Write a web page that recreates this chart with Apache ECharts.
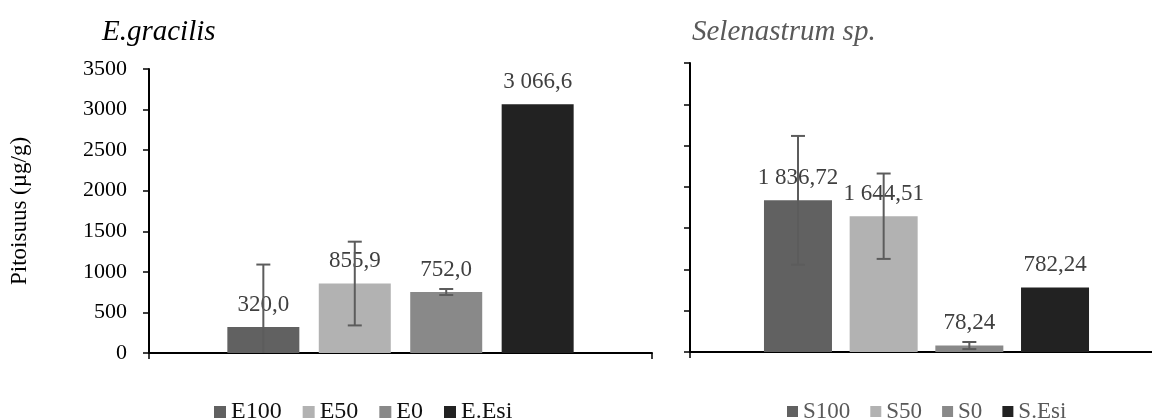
<!DOCTYPE html>
<html>
<head>
<meta charset="utf-8">
<script src="https://cdn.jsdelivr.net/npm/echarts@6/dist/echarts.min.js"></script>
<style>
  html, body { margin: 0; padding: 0; background: #fff; }
  #main { width: 1152px; height: 419px; }
</style>
</head>
<body>
<div id="main"></div>
<script>
var eNames = ['E100', 'E50', 'E0', 'E.Esi'];
var eValues = [320.0, 855.9, 752.0, 3066.6];
var eErrors = [770, 516, 37, 0];

var sNames = ['S100', 'S50', 'S0', 'S.Esi'];
var sValues = [1836.72, 1644.51, 78.24, 782.24];
var sErrors = [780, 517, 43, 0];

var yTicks = { min: 0, max: 3500, interval: 500 };
var barColors = ['#616161', '#b2b2b2', '#898989', '#222222'];

var FONT = '"Liberation Serif", "Times New Roman", serif';

// 1 234,5 style (space for thousands, comma for decimals)
function fiNum(v, d) {
    var s = v.toFixed(d).split('.');
    var int = s[0].replace(/\B(?=(\d{3})+(?!\d))/g, ' ');
    return d ? int + ',' + s[1] : int;
}

var myChart = echarts.init(document.getElementById('main'));

var panels = [
    { names: eNames, values: eValues, errors: eErrors, dec: 1, barWidth: 72, gap: 0.27, grid: 0 },
    { names: sNames, values: sValues, errors: sErrors, dec: 2, barWidth: 68, gap: 0.26, grid: 1 }
];

var series = [];
panels.forEach(function (p) {
    p.names.forEach(function (n, i) {
        series.push({
            name: n,
            type: 'bar',
            xAxisIndex: p.grid,
            yAxisIndex: p.grid,
            barWidth: p.barWidth,
            barGap: (p.gap * 100) + '%',
            itemStyle: { color: barColors[i] },
            label: {
                show: true,
                position: 'top',
                distance: 11,
                color: '#404040',
                fontFamily: FONT,
                fontSize: 23,
                formatter: function (prm) { return fiNum(prm.value, p.dec); }
            },
            data: [p.values[i]],
            z: 2
        });
    });
    // error bars
    var pitch = p.barWidth * (1 + p.gap);
    var errData = p.values.map(function (v, i) {
        return [0, Math.max(0, v - p.errors[i]), v + p.errors[i], i, v - p.errors[i] < 0 ? 1 : 0];
    }).filter(function (d, i) { return p.errors[i] > 0; });
    series.push({
        type: 'custom',
        xAxisIndex: p.grid,
        yAxisIndex: p.grid,
        z: 5,
        silent: true,
        clip: false,
        encode: { x: 0, y: [1, 2] },
        data: errData,
        renderItem: function (params, api) {
            var k = api.value(3);
            var lo = api.coord([0, api.value(1)]);
            var hi = api.coord([0, api.value(2)]);
            var x = lo[0] + (k - 1.5) * pitch;
            var cap = 7;
            var st = { stroke: '#5c5c5c', lineWidth: 2 };
            var kids = [
                { type: 'line', shape: { x1: x, y1: lo[1], x2: x, y2: hi[1] }, style: st },
                { type: 'line', shape: { x1: x - cap, y1: hi[1], x2: x + cap, y2: hi[1] }, style: st }
            ];
            if (!api.value(4)) {
                kids.push({ type: 'line', shape: { x1: x - cap, y1: lo[1], x2: x + cap, y2: lo[1] }, style: st });
            }
            return { type: 'group', children: kids };
        }
    });
});

var option = {
    animation: false,
    textStyle: { fontFamily: FONT },
    title: [
        {
            text: 'E.gracilis', left: 102, top: 18, padding: 0,
            textStyle: { fontFamily: FONT, fontStyle: 'italic', fontWeight: 'normal', fontSize: 29, color: '#000' }
        },
        {
            text: 'Selenastrum sp.', left: 692, top: 18, padding: 0,
            textStyle: { fontFamily: FONT, fontStyle: 'italic', fontWeight: 'normal', fontSize: 29, color: '#595959' }
        }
    ],
    legend: [
        {
            data: eNames, left: 214, top: 400, padding: 0,
            itemWidth: 12, itemHeight: 12, itemGap: 21,
            icon: 'rect',
            textStyle: { fontFamily: FONT, fontSize: 24, color: '#111' }
        },
        {
            data: sNames, left: 787, top: 400, padding: 0,
            itemWidth: 11, itemHeight: 11, itemGap: 20,
            icon: 'rect',
            textStyle: { fontFamily: FONT, fontSize: 23, color: '#595959' }
        }
    ],
    grid: [
        { left: 149, width: 503, top: 69, bottom: 66, outerBoundsMode: 'none' },
        { left: 690, width: 473, top: 63, bottom: 67, outerBoundsMode: 'none' }
    ],
    xAxis: [0, 1].map(function (g) {
        return {
            type: 'category', gridIndex: g, data: [''],
            axisLine: { lineStyle: { color: '#000', width: 2 } },
            axisTick: { show: true, length: 6, lineStyle: { color: '#000', width: 1.5 } },
            axisLabel: { show: false }
        };
    }),
    yAxis: [0, 1].map(function (g) {
        return {
            type: 'value', gridIndex: g,
            min: yTicks.min, max: yTicks.max, interval: yTicks.interval,
            splitLine: { show: false },
            axisLine: { show: true, lineStyle: { color: '#000', width: 2 } },
            axisTick: { show: true, length: 6, lineStyle: { color: '#000', width: 1.5 } },
            axisLabel: {
                show: g === 0, fontFamily: FONT, fontSize: 22, color: '#000', margin: 22,
                formatter: function (v) { return String(v); }
            },
            name: g === 0 ? 'Pitoisuus (µg/g)' : '',
            nameLocation: 'middle',
            nameGap: 118,
            nameTextStyle: { fontFamily: FONT, fontSize: 23, color: '#000' }
        };
    }),
    series: series
};
myChart.setOption(option);
</script>
</body>
</html>
